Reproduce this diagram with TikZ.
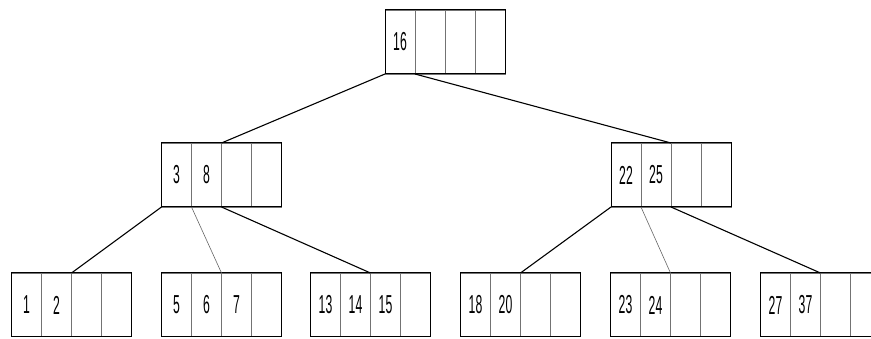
\documentclass[tikz,border=0pt]{standalone}
\usepackage{fontspec}
\setmainfont[FakeStretch=0.47]{Liberation Sans}
\tikzset{
  cell/.style={draw=black!55, line width=0.6pt, minimum width=30pt, minimum height=64pt,
    inner sep=0pt, outer sep=0pt, anchor=north west, font=\fontsize{26}{26}\selectfont},
  boxline/.style={draw=black, line width=1pt},
  link/.style={draw=black, line width=1.1pt},
  thinlink/.style={draw=black!60, line width=0.6pt}
}
\newcommand\btnode[4]{%
  \foreach \k [count=\i] in {#4} {
    \node[cell] (#1\i) at ({#2+30*(\i-1)},#3) {\k};
  }
  \draw[boxline] (#11.north west) rectangle (#14.south east);
}
\begin{document}
\begin{tikzpicture}[x=1pt,y=-1pt]
\useasboundingbox (0,0) rectangle (871,339);
\clip (0,0) rectangle (871,336.3);
\btnode{r}{385}{10}{16,{},{},{}}
\btnode{a}{161.5}{143}{3,8,{},{}}
\btnode{b}{611}{143}{22,25,{},{}}
\btnode{p}{11.5}{273}{1,2,{},{}}
\btnode{q}{161.5}{273}{5,6,7,{}}
\btnode{s}{310.5}{273}{13,14,15,{}}
\btnode{t}{460.5}{273}{18,20,{},{}}
\btnode{u}{610.5}{273}{23,24,{},{}}
\btnode{v}{760.5}{273}{27,37,{},{}}
\draw[link] (r1.south west) -- (a3.north west);
\draw[link] (r2.south west) -- (b3.north west);
\draw[link] (a1.south west) -- (p3.north west);
\draw[thinlink] (a2.south west) -- (q3.north west);
\draw[link] (a3.south west) -- (s3.north west);
\draw[link] (b1.south west) -- (t3.north west);
\draw[thinlink] (b2.south west) -- (u3.north west);
\draw[link] (b3.south west) -- (v3.north west);
\end{tikzpicture}
\end{document}
